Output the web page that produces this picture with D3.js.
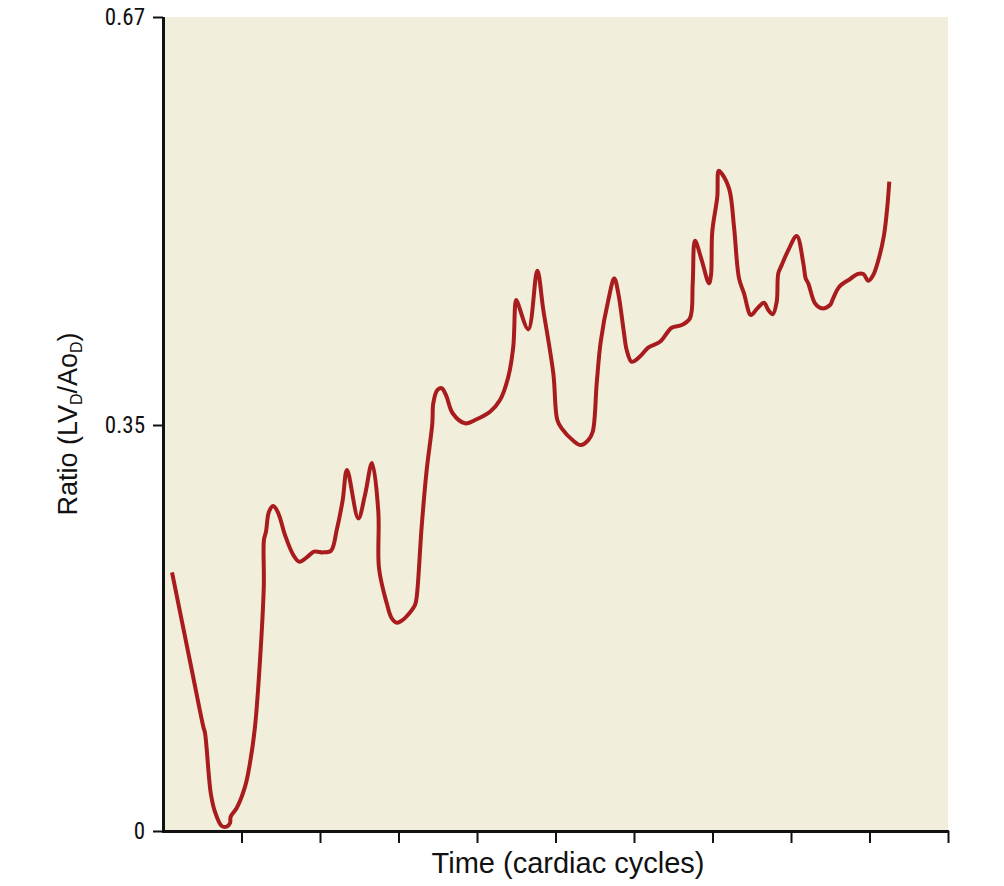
<!DOCTYPE html>
<html><head><meta charset="utf-8">
<script src="https://cdn.jsdelivr.net/npm/d3@7"></script>
<style>
body{margin:0;background:#fff;}
svg text{fill:#111;}
</style></head>
<body>
<svg id="c" width="1004" height="886"></svg>
<script>
// Time in cardiac cycles (0..10) and ratio LVD/AoD
const time = [0.115,0.366,0.513,0.535,0.608,0.662,0.748,0.811,0.854,0.862,0.939,1.045,1.108,1.172,1.236,1.284,1.286,1.312,1.350,1.405,1.469,1.554,1.660,1.736,1.831,1.924,2.042,2.140,2.213,2.289,2.344,2.488,2.573,2.662,2.743,2.752,2.850,2.913,2.977,3.041,3.138,3.210,3.232,3.295,3.359,3.431,3.443,3.494,3.550,3.605,3.690,3.847,3.996,4.166,4.293,4.399,4.462,4.497,4.513,4.654,4.768,4.845,4.972,5.023,5.079,5.227,5.321,5.418,5.474,5.525,5.576,5.673,5.749,5.800,5.873,5.907,5.971,6.076,6.185,6.331,6.480,6.608,6.713,6.748,6.777,6.862,6.955,6.981,6.997,7.061,7.079,7.117,7.214,7.274,7.338,7.401,7.490,7.571,7.656,7.711,7.767,7.818,7.838,7.881,7.966,8.073,8.157,8.187,8.220,8.306,8.391,8.497,8.531,8.615,8.752,8.845,8.921,8.985,9.048,9.125,9.185,9.227,9.252];
const ratio = [0.223,0.139,0.090,0.0845,0.0328,0.0166,0.0043,0.0037,0.0069,0.0123,0.0198,0.0382,0.0586,0.0899,0.1474,0.211,0.251,0.258,0.2752,0.2801,0.2739,0.2552,0.2379,0.2321,0.2359,0.2408,0.2402,0.2416,0.2595,0.2853,0.3112,0.2695,0.2896,0.3172,0.2752,0.2264,0.1963,0.1834,0.1796,0.1813,0.1877,0.1948,0.2020,0.2623,0.3112,0.3513,0.3670,0.3774,0.3788,0.3735,0.3592,0.3513,0.3545,0.3604,0.3696,0.3879,0.4114,0.448,0.4467,0.425,0.471,0.4402,0.3905,0.3539,0.3471,0.3364,0.3327,0.3370,0.3442,0.3827,0.4153,0.448,0.465,0.4533,0.4219,0.4088,0.3996,0.4037,0.4109,0.4153,0.4263,0.4284,0.4337,0.4611,0.4945,0.4794,0.4611,0.4676,0.5016,0.529,0.5494,0.5473,0.5348,0.5055,0.465,0.4533,0.4362,0.4415,0.4459,0.4402,0.4368,0.4467,0.4689,0.4754,0.4872,0.4982,0.4768,0.465,0.4611,0.4454,0.4415,0.4441,0.4485,0.4584,0.4645,0.4684,0.4684,0.4631,0.4676,0.482,0.499,0.5211,0.5408];
const yTicks = [0, 0.35, 0.67];
const yTickLabels = ["0", "0.35", "0.67"];
const xTicks = [1,2,3,4,5,6,7,8,9,10];
const xLabel = "Time (cardiac cycles)";

const svg = d3.select("#c");
const L = 163, R = 948, T = 17, B = 831;
const x = d3.scaleLinear().domain([0,10]).range([L,R]);
const y = d3.scaleLinear().domain(yTicks).range([B, 425, T]);

svg.append("rect").attr("x",L).attr("y",T).attr("width",R-L).attr("height",B-T).attr("fill","#f2eedc");

const data = time.map((t,i)=>({t, v: ratio[i]}));
svg.append("path").datum(data)
  .attr("fill","none").attr("stroke","#a81c1e").attr("stroke-width",4)
  .attr("stroke-linejoin","round").attr("stroke-linecap","butt")
  .attr("d", d3.line().x(d=>x(d.t)).y(d=>y(d.v)).curve(d3.curveCatmullRom.alpha(0.5)));

// axes
const yAxis = d3.axisLeft(y).tickValues(yTicks).tickFormat((d,i)=>yTickLabels[i]).tickSize(10).tickPadding(8);
const gy = svg.append("g").attr("transform",`translate(${L},0)`).call(yAxis);
gy.select(".domain").attr("stroke","#111").attr("stroke-width",3).attr("d",`M0.5,${T}V${B}`);
gy.selectAll(".tick line").attr("stroke","#111").attr("stroke-width",2);
gy.selectAll(".tick text").attr("font-family","'Liberation Sans Narrow','Roboto Condensed','Liberation Sans',sans-serif").attr("font-size",23).attr("fill","#111");

const xAxis = d3.axisBottom(x).tickValues(xTicks).tickFormat("").tickSize(12);
const gx = svg.append("g").attr("transform",`translate(0,${B})`).call(xAxis);
gx.select(".domain").attr("stroke","#111").attr("stroke-width",3).attr("d",`M${L-1},0.5H${R+1}`);
gx.selectAll(".tick line").attr("stroke","#111").attr("stroke-width",2);

svg.append("text").attr("x",568).attr("y",873).attr("text-anchor","middle")
  .attr("font-family","'Liberation Sans',Arial,sans-serif").attr("font-size",29).text(xLabel);

const yl = svg.append("text").attr("transform","translate(77,424) rotate(-90)").attr("text-anchor","middle")
  .attr("font-family","'Liberation Sans',Arial,sans-serif").attr("font-size",27);
yl.append("tspan").text("Ratio (LV");
yl.append("tspan").attr("font-size",16).attr("dy",5).text("D");
yl.append("tspan").attr("dy",-5).text("/Ao");
yl.append("tspan").attr("font-size",16).attr("dy",5).text("D");
yl.append("tspan").attr("dy",-5).text(")");
</script>
</body></html>
